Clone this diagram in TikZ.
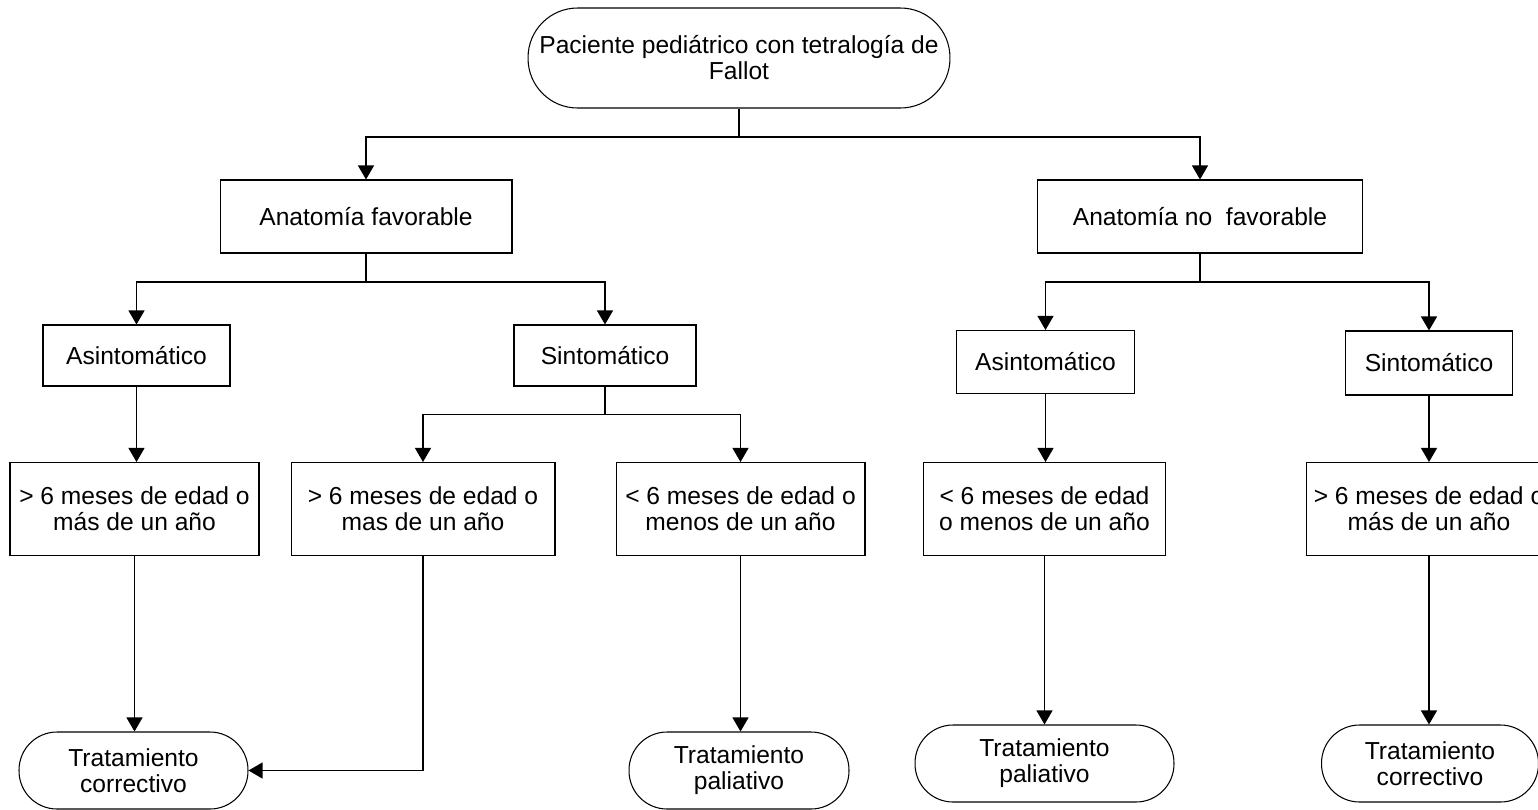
\documentclass[tikz,border=0pt]{standalone}
\usepackage{fontspec}
\setmainfont{Liberation Sans}
\usetikzlibrary{arrows.meta}
\tikzset{
  proc/.style={draw=black, line width=0.6pt, align=center, inner sep=1pt,
    font=\fontsize{14}{14.8}\selectfont},
  arr/.style={line width=0.6pt, -{Triangle[width=0.32cm,length=0.28cm]}},
  ln/.style={line width=0.6pt}
}
\begin{document}
\begin{tikzpicture}[x=0.02cm,y=-0.02cm]
\useasboundingbox[fill=white] (0,0) rectangle (1538,809);
% top
\node[proc, rounded corners=0.99cm, minimum width=8.44cm, minimum height=2.0cm] (top) at (739,58)
  {Paciente pediátrico con tetralogía de\\Fallot};
% level 2
\node[proc, minimum width=5.84cm, minimum height=1.46cm] (af) at (366,216.5) {Anatomía favorable};
\node[proc, minimum width=6.5cm, minimum height=1.46cm] (anf) at (1200,216.5) {Anatomía no\ \ favorable};
% level 3
\node[proc, minimum width=3.74cm, minimum height=1.22cm] (asl) at (136.5,355.5) {Asintomático};
\node[proc, minimum width=3.64cm, minimum height=1.22cm] (sil) at (605,355.5) {Sintomático};
\node[proc, minimum width=3.56cm, minimum height=1.26cm] (asr) at (1045.5,362) {Asintomático};
\node[proc, minimum width=3.34cm, minimum height=1.28cm] (sir) at (1429,363) {Sintomático};
% level 4
\node[proc, minimum width=4.98cm, minimum height=1.86cm] (b1) at (134.5,509) {> 6 meses de edad o\\más de un año};
\node[proc, minimum width=5.28cm, minimum height=1.86cm] (b2) at (423,509) {> 6 meses de edad o\\mas de un año};
\node[proc, minimum width=4.98cm, minimum height=1.86cm] (b3) at (740.5,509) {< 6 meses de edad o\\menos de un año};
\node[proc, minimum width=4.83cm, minimum height=1.86cm] (b4) at (1044.5,509) {< 6 meses de edad\\o menos de un año};
\node[proc, minimum width=4.92cm, minimum height=1.86cm] (b5) at (1429,509) {> 6 meses de edad o\\más de un año};
% terminators
\node[proc, rounded corners=0.76cm, minimum width=4.58cm, minimum height=1.54cm] (t1) at (133.5,770.5) {Tratamiento\\correctivo};
\node[proc, rounded corners=0.76cm, minimum width=4.4cm, minimum height=1.54cm] (t2) at (739,770.5) {Tratamiento\\paliativo};
\node[proc, rounded corners=0.76cm, minimum width=5.18cm, minimum height=1.54cm] (t3) at (1044.5,763.5) {Tratamiento\\paliativo};
\node[proc, rounded corners=0.76cm, minimum width=4.34cm, minimum height=1.54cm] (t4) at (1430,763.5) {Tratamiento\\correctivo};
% connectors
\draw[ln] (top.south) -- (top.south |- 0,137) coordinate (j0);
\draw[arr] (j0) -| (af.north);
\draw[arr] (j0) -| (anf.north);
\draw[ln] (af.south) -- (af.south |- 0,282) coordinate (j1);
\draw[arr] (j1) -| (asl.north);
\draw[arr] (j1) -| (sil.north);
\draw[ln] (anf.south) -- (anf.south |- 0,282) coordinate (j2);
\draw[arr] (j2) -| (asr.north);
\draw[arr] (j2) -| (sir.north);
\draw[ln] (sil.south) -- (sil.south |- 0,414.5) coordinate (j3);
\draw[arr] (j3) -| (b2.north);
\draw[arr] (j3) -| (b3.north);
\draw[arr] (asl.south) -- (asl.south |- b1.north);
\draw[arr] (asr.south) -- (asr.south |- b4.north);
\draw[arr] (sir.south) -- (sir.south |- b5.north);
\draw[arr] (b1.south) -- (b1.south |- t1.north);
\draw[arr] (b2.south) |- (t1.east);
\draw[arr] (b3.south) -- (b3.south |- t2.north);
\draw[arr] (b4.south) -- (b4.south |- t3.north);
\draw[arr] (b5.south) -- (b5.south |- t4.north);
\end{tikzpicture}
\end{document}
